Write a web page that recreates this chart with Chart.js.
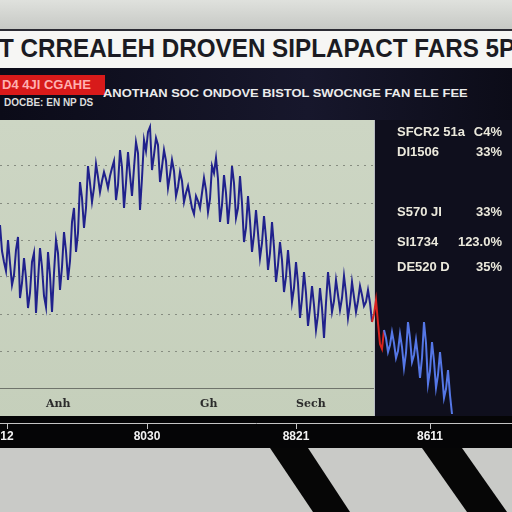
<!DOCTYPE html>
<html>
<head>
<meta charset="utf-8">
<script src="https://cdn.jsdelivr.net/npm/chart.js@4"></script>
<style>
  html, body { margin: 0; padding: 0; }
  body { width: 512px; height: 512px; overflow: hidden; position: relative; background: #c9cac7; font-family: "Liberation Sans", Arial, sans-serif; }
  .abs { position: absolute; white-space: nowrap; }
  #topStrip { left: 0; top: 0; width: 512px; height: 30px; background: linear-gradient(#dfe1dd, #c6c8c4); }
  #banner { left: 0; top: 29px; width: 512px; height: 39px; background: #f6f6f4; border-top: 2px solid #2b2b33; box-sizing: border-box; }
  #title { left: -1px; top: 35px; font-size: 26px; line-height: 26px; font-weight: bold; color: #1b1b22; transform-origin: 0 0; }
  #navy { left: 0; top: 68px; width: 512px; height: 52px; background: linear-gradient(90deg, #0b0b18, #17172c 60%, #0c0c18); }
  #redBox { left: 0; top: 75px; width: 105px; height: 20px; background: #d81a1a; color: #ffb0b0; font-weight: bold; font-size: 13px; line-height: 20px; padding-left: 2px; box-sizing: border-box; overflow: hidden; }
  #sub1 { left: 4px; top: 98px; font-size: 10px; line-height: 10px; font-weight: bold; color: #dcdcdc; }
  #sub2 { left: 103px; top: 88px; font-size: 11px; line-height: 11px; font-weight: bold; color: #ececec; transform-origin: 0 0; }
  #chartBox { left: 0; top: 120px; width: 512px; height: 328px; }
  .side { font-size: 13px; line-height: 13px; font-weight: bold; color: #ebe9dc; }
  .inner { font-size: 11px; line-height: 11px; font-weight: bold; color: #2b2b2b; font-family: "DejaVu Serif", serif; }
  .stripe { background: #060606; width: 512px; height: 64px; left: 0; top: 448px; }
</style>
</head>
<body>
<div class="abs" id="topStrip"></div>
<div class="abs" id="banner"></div>
<div class="abs" id="title">T CRREALEH DROVEN SIPLAPACT FARS 5P</div>
<div class="abs" id="navy"></div>
<div class="abs" id="redBox">D4 4JI CGAHE</div>
<div class="abs" id="sub1">DOCBE: EN NP DS</div>
<div class="abs" id="sub2">ANOTHAN SOC ONDOVE BISTOL SWOCNGE FAN ELE FEE</div>
<div class="abs" id="chartBox"><canvas id="priceChart" width="512" height="328"></canvas></div>

<div class="abs side" style="left:397px;top:125px">SFCR2 51a</div>
<div class="abs side" style="right:10px;top:125px">C4%</div>
<div class="abs side" style="left:397px;top:145px">DI1506</div>
<div class="abs side" style="right:10px;top:145px">33%</div>
<div class="abs side" style="left:397px;top:205px">S570 JI</div>
<div class="abs side" style="right:10px;top:205px">33%</div>
<div class="abs side" style="left:397px;top:235px">SI1734</div>
<div class="abs side" style="right:10px;top:235px">123.0%</div>
<div class="abs side" style="left:397px;top:260px">DE520 D</div>
<div class="abs side" style="right:10px;top:260px">35%</div>

<div class="abs inner" style="left:46px;top:398px">Anh</div>
<div class="abs inner" style="left:200px;top:398px">Gh</div>
<div class="abs inner" style="left:296px;top:398px">Sech</div>

<div class="abs stripe" style="clip-path: polygon(270px 0, 308px 0, 350px 64px, 313px 64px)"></div>
<div class="abs stripe" style="clip-path: polygon(422px 0, 462px 0, 507px 64px, 467px 64px)"></div>

<script>
// intraday prices, one point per tick
const prices = [
    4980, 4720, 4610, 4520, 4830, 4600, 4380, 4480, 4730, 4860,
    4250, 4400, 4650, 4450, 4150, 4300, 4610, 4700, 4100, 4420,
    4750, 4560, 4270, 4160, 4710, 4480, 4110, 4500, 4830, 4700,
    4330, 4560, 4910, 4720, 4430, 4620, 5010, 5150, 4710, 4900,
    5410, 5250, 4950, 5150, 5570, 5400, 5210, 5350, 5590, 5460,
    5310, 5420, 5510, 5440, 5350, 5470, 5550, 5620, 5230, 5380,
    5730, 5560, 5150, 5400, 5710, 5480, 5270, 5550, 5810, 5700,
    5130, 5450, 5830, 5720, 5910, 5960, 5530, 5680, 5850, 5780,
    5410, 5560, 5730, 5620, 5350, 5480, 5630, 5520, 5270, 5360,
    5510, 5420, 5210, 5300, 5370, 5260, 5150, 5090, 5270, 5220,
    5150, 5300, 5450, 5330, 5110, 5240, 5570, 5500, 5650, 5440,
    5010, 5180, 5480, 5300, 4990, 5220, 5570, 5400, 5050, 5150,
    5470, 5200, 4810, 4950, 5270, 5020, 4710, 4880, 5130, 4900,
    4650, 4800, 5070, 4850, 4530, 4700, 5010, 4760, 4410, 4580,
    4810, 4630, 4310, 4460, 4730, 4500, 4210, 4350, 4610, 4400,
    4050, 4240, 4510, 4300, 3970, 4150, 4370, 4180, 3930, 4080,
    4350, 4150, 3850, 4200, 4510, 4320, 4110, 4220, 4430, 4280,
    4130, 4250, 4470, 4300, 4050, 4190, 4410, 4260, 4110, 4220,
    4370, 4280, 4170, 4210, 4330, 4200, 4010, 4090, 4230, 4000,
    3790, 3740, 3930, 3850, 3710, 3780, 3910, 3800, 3650, 3720,
    3890, 3760, 3550, 3700, 4010, 3850, 3610, 3680, 3830, 3660,
    3450, 3650, 4010, 3800, 3390, 3520, 3810, 3620, 3350, 3480,
    3710, 3500, 3250, 3340, 3530, 3280, 3090
];
const xTickAt = [3.5, 73.5, 148, 215];
const xTickLabels = ['12', '8030', '8821', '8611'];
const yGridValues = [3350, 3720, 4090, 4460, 4830, 5200, 5570];
const crashStart = 186;  // red leg
const afterHours = 192;  // light blue part on the dark panel
const splitAt = 187;

const navy = '#20218c';
const red = '#d8231f';
const lightBlue = '#5577e6';

// panel backgrounds behind / over the grid
const panels = {
    id: 'panels',
    beforeDraw(chart) {
        const { ctx, chartArea: a, scales: { x } } = chart;
        const split = x.getPixelForValue(splitAt);
        ctx.save();
        ctx.fillStyle = '#050506';
        ctx.fillRect(0, 0, chart.width, chart.height);
        const g = ctx.createLinearGradient(0, a.top, 0, a.bottom);
        g.addColorStop(0, '#cdd6c4');
        g.addColorStop(1, '#c5cfbb');
        ctx.fillStyle = g;
        ctx.fillRect(a.left, a.top, split - a.left, a.bottom - 7 - a.top);
        ctx.restore();
    },
    beforeDatasetsDraw(chart) {
        const { ctx, chartArea: a, scales: { x } } = chart;
        const split = x.getPixelForValue(splitAt);
        ctx.save();
        ctx.fillStyle = '#0f0f1d';
        ctx.fillRect(split, a.top, a.right - split, a.bottom - 7 - a.top);
        ctx.fillStyle = '#b9bdc2';
        ctx.fillRect(split, a.top, 1, a.bottom - 7 - a.top);
        ctx.restore();
    }
};

const priceCtx = document.getElementById('priceChart').getContext('2d');
const priceChart = new Chart(priceCtx, {
    type: 'line',
    data: {
        datasets: [{
            data: prices.map((v, i) => ({ x: i, y: v })),
            borderColor: navy,
            borderWidth: 2,
            pointRadius: 0,
            tension: 0,
            segment: {
                borderColor: c => c.p0DataIndex >= afterHours ? lightBlue
                    : c.p0DataIndex >= crashStart ? red : navy
            }
        }]
    },
    plugins: [panels],
    options: {
        responsive: false,
        animation: false,
        layout: { padding: 0 },
        plugins: {
            legend: { display: false },
            tooltip: { enabled: false }
        },
        scales: {
            x: {
                type: 'linear',
                min: 0,
                max: 256,
                afterFit: s => { s.height = 25; },
                afterBuildTicks: s => { s.ticks = xTickAt.map(v => ({ value: v })); },
                border: { display: true, color: '#c4c4c4', width: 1 },
                grid: { drawOnChartArea: false, drawTicks: true, tickLength: 6, color: '#c4c4c4' },
                ticks: {
                    padding: 0,
                    maxRotation: 0,
                    autoSkip: false,
                    color: '#f2f2f2',
                    font: { family: 'Liberation Sans', size: 12, weight: 'bold' },
                    callback: (v, i) => xTickLabels[i]
                }
            },
            y: {
                min: 3000,
                max: 6030,
                afterFit: s => { s.width = 0; },
                afterBuildTicks: s => { s.ticks = yGridValues.map(v => ({ value: v })); },
                ticks: { display: false },
                border: { display: false, dash: c => c.tick && c.tick.value === yGridValues[0] ? [] : [2, 5] },
                grid: { drawTicks: false, color: c => c.tick.value === yGridValues[0] ? '#6f746b' : '#868c80', lineWidth: 1 }
            }
        }
    }
});

// squeeze the headline / subtitle to the banner width
function fitWidth(id, w) {
    const el = document.getElementById(id);
    el.style.transform = 'scaleX(' + (w / el.offsetWidth) + ')';
}
fitWidth('title', 516);
fitWidth('sub2', 365);
</script>
</body>
</html>
